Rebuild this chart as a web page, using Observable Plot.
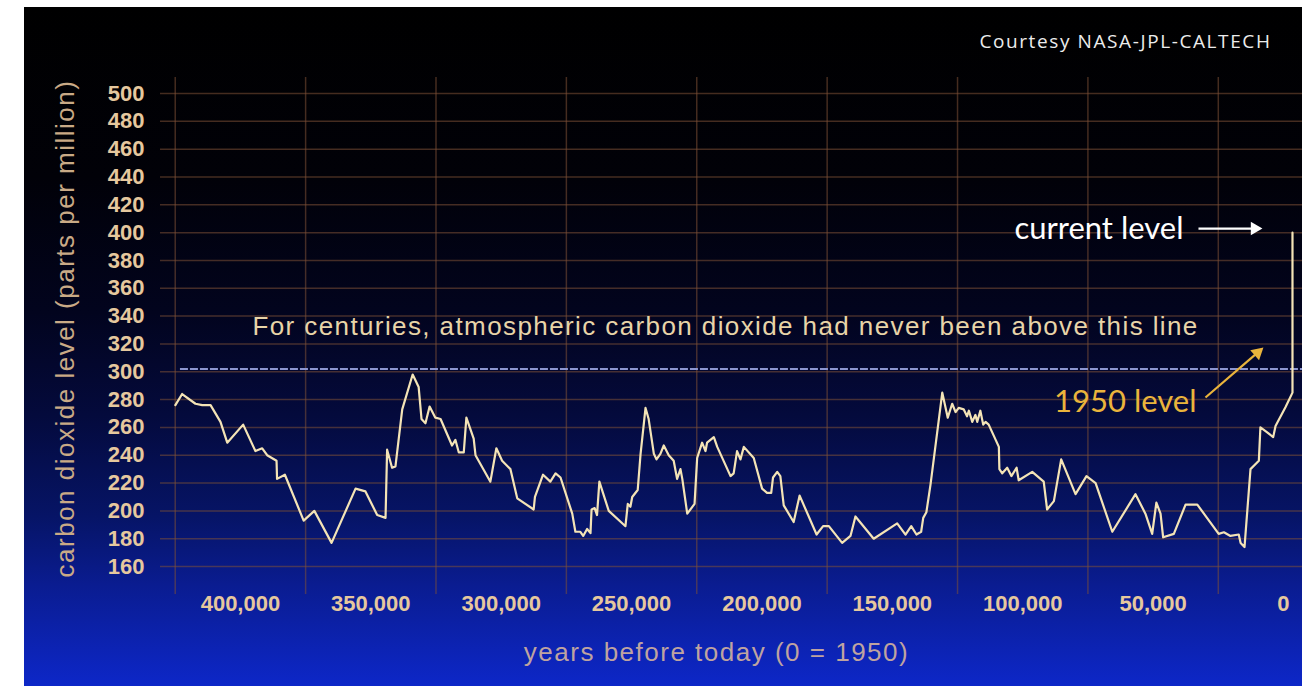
<!DOCTYPE html>
<html>
<head>
<meta charset="utf-8">
<script src="https://cdn.jsdelivr.net/npm/d3@7"></script>
<script src="https://cdn.jsdelivr.net/npm/@observablehq/plot@0.6"></script>
<style>
  html, body { margin: 0; padding: 0; background: #ffffff; width: 1316px; height: 686px; overflow: hidden; }
  #bg { position: absolute; left: 24px; top: 7px; width: 1278px; height: 679px;
        background: linear-gradient(to bottom, #000000 0%, #010108 25%, #02041e 45%, #040a3c 60%, #061466 75%, #0a1c90 85%, #0d27c8 100%); }
  #chart { position: absolute; left: 0; top: 0; }
</style>
</head>
<body>
<div id="bg"></div>
<div id="chart"></div>
<script>
// ---- data (years before 1950, CO2 ppm) ----
const years = [428400, 425800, 420700, 418100, 414900, 411100, 408500, 402400, 397700, 395100,
  393200, 389600, 389400, 386400, 379200, 375100, 368500, 359300, 355500, 351000,
  347800, 347200, 345300, 344000, 341400, 337400, 335100, 334000, 332500, 330900,
  328700, 326700, 322300, 321000, 319700, 317800, 316800, 314000, 313300, 307600,
  305300, 303100, 299900, 297300, 291000, 290500, 287400, 284600, 282600, 280700,
  276200, 275000, 273100, 272000, 270500, 269200, 268800, 267600, 266700, 265800,
  262200, 255800, 254900, 253900, 253200, 251100, 250000, 248100, 246900, 244900,
  243900, 242400, 241100, 239200, 237300, 236000, 234700, 234000, 232100, 229300,
  228300, 226400, 225100, 224500, 221900, 220600, 215500, 214300, 213000, 211700,
  210400, 206600, 203400, 201500, 199900, 199200, 197600, 196400, 195100, 191300,
  189000, 182500, 180000, 177800, 172700, 169500, 167600, 160600, 151600, 148400,
  146200, 144200, 142400, 141600, 140400, 138800, 134300, 132200, 130500, 129200,
  128000, 126100, 124800, 124100, 122800, 121600, 120900, 119700, 118600, 117700,
  116500, 112600, 112400, 111300, 109400, 107800, 105800, 105000, 99800, 95400,
  94100, 91500, 88700, 83200, 79000, 75500, 69100, 60200, 56400, 53800,
  52200, 50600, 49600, 45500, 41000, 36500, 28300, 26300, 23800, 20600,
  19900, 18400, 16100, 12900, 12300, 9700, 7400, 6500, 2700, 0, 0];
const co2 = [276, 284, 277, 276, 276, 264, 249, 262, 243, 245,
  240, 236, 223, 226, 193, 200, 177, 216, 214, 197,
  195, 244, 231, 232, 273, 298, 289, 266, 263, 275,
  267, 266, 247, 251, 242, 242, 267, 252, 240, 221,
  245, 236, 230, 209, 201, 210, 226, 221, 227, 224,
  198, 185, 185, 182, 187, 184, 201, 202, 197, 221,
  200, 189, 205, 203, 210, 215, 241, 274, 266, 241,
  237, 241, 247, 240, 236, 223, 230, 223, 198, 205,
  238, 249, 243, 249, 253, 246, 225, 227, 243, 237,
  246, 238, 216, 213, 213, 224, 228, 225, 204, 192,
  211, 183, 189, 189, 177, 182, 196, 180, 191, 183,
  189, 183, 185, 195, 199, 219, 285, 267, 277, 271,
  274, 273, 268, 272, 264, 269, 264, 272, 262, 264,
  262, 246, 230, 227, 231, 225, 231, 222, 228, 221,
  201, 207, 237, 212, 225, 220, 185, 212, 198, 183.5,
  206, 198, 181, 183.5, 204.5, 204.5, 183.5, 184.6, 182, 183,
  177, 174, 230, 236, 260, 256.5, 253, 261, 274.5, 285, 400];

const yTicks = [160, 180, 200, 220, 240, 260, 280, 300, 320, 340, 360, 380, 400, 420, 440, 460, 480, 500];
const xTicks = [400000, 350000, 300000, 250000, 200000, 150000, 100000, 50000, 0];
const xGrid = [425000, 375000, 325000, 275000, 225000, 175000, 125000, 75000, 25000];
const threshold = 302;

const yTitle = "carbon dioxide level (parts per million)";
const xTitle = "years before today (0 = 1950)";
const lineNote = "For centuries, atmospheric carbon dioxide had never been above this line";
const credit = "Courtesy NASA-JPL-CALTECH";
const currentLabel = "current level";
const level1950Label = "1950 level";

const series = years.map((y, i) => ({year: y, co2: co2[i]}));

const gridColor = "rgba(125, 80, 55, 0.55)";
const tickColor = "#e6c89e";
const lineColor = "#f4e4b6";
const gold = "#eab43c";

const chart = Plot.plot({
  width: 1316,
  height: 686,
  marginLeft: 160,
  marginRight: 14,
  marginTop: 77,
  marginBottom: 92,
  style: {background: "transparent", fontFamily: "'Liberation Sans', Arial, sans-serif", overflow: "visible"},
  x: {domain: [434100, -3840], label: null},
  y: {domain: [139.9, 511.5], label: null},
  marks: [
    Plot.ruleY(yTicks, {stroke: gridColor, strokeWidth: 1.5}),
    Plot.ruleX(xGrid, {stroke: gridColor, strokeWidth: 1.5, dx: -9}),
    Plot.axisY(yTicks, {tickSize: 0, tickPadding: 16, fontSize: 22, fontWeight: "bold", fill: tickColor, label: null}),
    Plot.axisX(xTicks, {tickSize: 0, tickPadding: 1, fontSize: 22, fontWeight: "bold", fill: tickColor, label: null, dx: -9, tickFormat: d3.format(",")}),
    Plot.ruleY([threshold], {x1: 426450, x2: -3840, stroke: "#8c95d0", strokeWidth: 2, strokeDasharray: "8,2"}),
    Plot.line(series, {x: "year", y: "co2", stroke: lineColor, strokeWidth: 2.2, strokeLinejoin: "round"}),
    Plot.text([lineNote], {x: 217400, y: 332.5, fill: "#e8d4a8", fontSize: 26, textAnchor: "middle", lineAnchor: "middle"}),
    Plot.text([yTitle], {frameAnchor: "left", rotate: -90, dx: -95, dy: -7.5, fill: "#c9aa86", fontSize: 26, textAnchor: "middle", lineAnchor: "middle"}),
    Plot.text([xTitle], {frameAnchor: "bottom", dx: -15, dy: 58, fill: "#bfa3a0", fontSize: 26, textAnchor: "middle", lineAnchor: "middle"}),
    Plot.text([credit], {frameAnchor: "top-right", dx: -31, dy: -36, fill: "#ececec", fontSize: 19, fontFamily: "'Open Sans', sans-serif", textAnchor: "end", lineAnchor: "middle"}),
    Plot.text([currentLabel], {x: 41800, y: 402.9, fill: "#ffffff", fontSize: 31, fontFamily: "Lato, sans-serif", textAnchor: "end", lineAnchor: "middle"}),
    Plot.link([{x1: 36050, x2: 15300, y: 402.9}], {x1: "x1", x2: "x2", y1: "y", y2: "y", stroke: "#ffffff", strokeWidth: 2.2}),
    Plot.dot([{x: 14500, y: 402.9}], {x: "x", y: "y", symbol: "triangle", r: 5, fill: "#ffffff", stroke: null, rotate: 90}),
    Plot.text([level1950Label], {x: 36800, y: 277.9, fill: gold, fontSize: 31, fontFamily: "Lato, sans-serif", textAnchor: "end", lineAnchor: "middle"}),
    Plot.link([{x1: 33365, y1: 281.5, x2: 13400, y2: 313.7}], {x1: "x1", x2: "x2", y1: "y1", y2: "y2", stroke: gold, strokeWidth: 2.2}),
    Plot.dot([{x: 13384, y: 313.7}], {x: "x", y: "y", symbol: "triangle", r: 5, fill: gold, stroke: null, rotate: 49})
  ]
});
document.getElementById("chart").appendChild(chart);

// letter spacing for the wide-set titles
const spacing = new Map([[lineNote, "1.4px"], [yTitle, "1.5px"], [xTitle, "1.5px"], [credit, "1.6px"]]);
chart.querySelectorAll("text").forEach((t) => {
  const s = spacing.get(t.textContent);
  if (s) t.style.letterSpacing = s;
});
</script>
</body>
</html>
